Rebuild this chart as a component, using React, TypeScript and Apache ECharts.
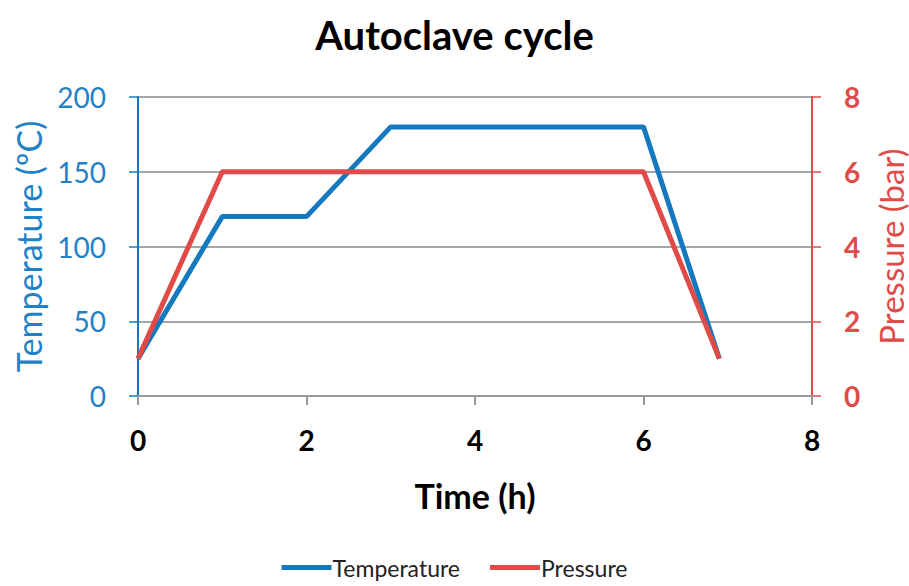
import React, { useEffect, useRef } from "react";
import * as echarts from "echarts";

const timeTemp = [0, 1, 2, 3, 6, 6.9];
const temperature = [25, 120, 120, 180, 180, 25];
const timePress = [0, 1, 6, 6.9];
const pressure = [1, 6, 6, 1];

const BLUE = "#1479BE";
const BLUE_TEXT = "#1F82C6";
const RED = "#E04B47";
const FONT = "Lato, 'Open Sans', sans-serif";

export default function App() {
  const ref = useRef<HTMLDivElement>(null);
  useEffect(() => {
    if (!ref.current) return;
    const chart = echarts.init(ref.current, null, { renderer: "svg" });
    chart.setOption({
      animation: false,
      textStyle: { fontFamily: FONT },
      title: {
        text: "Autoclave cycle",
        left: "center",
        top: 10,
        textStyle: { fontFamily: FONT, fontSize: 40, fontWeight: "bold", color: "#000" },
      },
      legend: {
        bottom: 2,
        left: "center",
        itemWidth: 50,
        itemHeight: 5,
        itemGap: 30,
        icon: "rect",
        textStyle: { fontFamily: FONT, fontSize: 23, color: "#222", padding: [0, 0, 0, -4] },
        data: ["Temperature", "Pressure"],
      },
      grid: { left: 138, right: 97, top: 97, bottom: 190, outerBoundsMode: "none" },
      xAxis: {
        type: "value",
        min: 0,
        max: 8,
        interval: 2,
        name: "Time (h)",
        nameLocation: "middle",
        nameGap: 82,
        nameTextStyle: { fontFamily: FONT, fontSize: 34, fontWeight: "bold", color: "#000" },
        axisLine: { show: true, lineStyle: { color: "#999", width: 2 } },
        axisTick: { show: true, length: 9, lineStyle: { color: "#999", width: 2 } },
        axisLabel: { fontFamily: FONT, fontSize: 28, fontWeight: "bold", color: "#000", margin: 30 },
        splitLine: { show: false },
      },
      yAxis: [
        {
          type: "value",
          min: 0,
          max: 200,
          interval: 50,
          name: "Temperature (ºC)",
          nameLocation: "middle",
          nameGap: 93,
          nameTextStyle: { fontFamily: FONT, fontSize: 34, color: BLUE_TEXT },
          axisLine: { show: true, lineStyle: { color: BLUE, width: 2 } },
          axisTick: { show: true, length: 9, lineStyle: { color: BLUE, width: 1.5 } },
          axisLabel: { fontFamily: FONT, fontSize: 28, color: BLUE_TEXT, margin: 32 },
          splitLine: { show: true, lineStyle: { color: "#A6A6A6", width: 2 } },
        },
        {
          type: "value",
          min: 0,
          max: 8,
          interval: 2,
          name: "Pressure (bar)",
          nameLocation: "middle",
          nameGap: 62,
          nameTextStyle: { fontFamily: FONT, fontSize: 33, color: RED },
          axisLine: { show: true, lineStyle: { color: RED, width: 2 } },
          axisTick: { show: true, length: 9, lineStyle: { color: RED, width: 1.5 } },
          axisLabel: { fontFamily: FONT, fontSize: 28, fontWeight: "bold", color: RED, margin: 32 },
          splitLine: { show: false },
        },
      ],
      series: [
        {
          name: "Temperature",
          type: "line",
          yAxisIndex: 0,
          showSymbol: false,
          symbol: "none",
          itemStyle: { color: BLUE },
          lineStyle: { color: BLUE, width: 5 },
          data: timeTemp.map((t, i) => [t, temperature[i]]),
        },
        {
          name: "Pressure",
          type: "line",
          yAxisIndex: 1,
          showSymbol: false,
          symbol: "none",
          itemStyle: { color: RED },
          lineStyle: { color: RED, width: 5 },
          data: timePress.map((t, i) => [t, pressure[i]]),
        },
      ],
    });
    return () => chart.dispose();
  }, []);
  return <div ref={ref} style={{ width: 909, height: 586, position: "absolute", left: 0, top: 0 }} />;
}
